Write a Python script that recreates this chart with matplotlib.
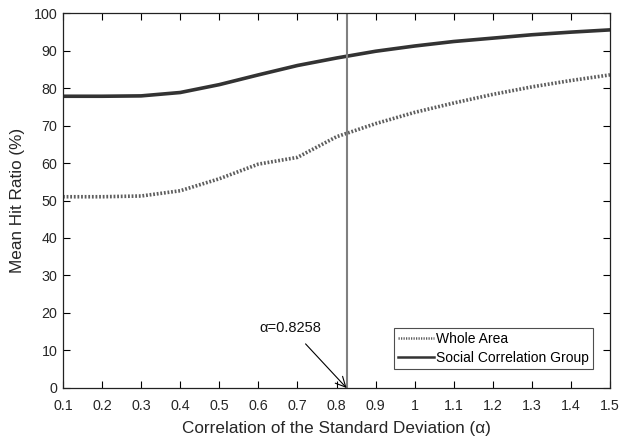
import matplotlib
matplotlib.use("Agg")
import matplotlib.pyplot as plt

alpha = [0.1, 0.2, 0.3, 0.4, 0.5, 0.6, 0.7, 0.8, 0.9, 1.0, 1.1, 1.2, 1.3, 1.4, 1.5]
whole_area = [51.0, 51.0, 51.2, 52.6, 55.8, 59.7, 61.5, 67.0, 70.5, 73.5, 76.0, 78.3, 80.3, 82.0, 83.5]
social_group = [77.8, 77.8, 77.9, 78.8, 80.9, 83.5, 86.0, 88.0, 89.8, 91.2, 92.4, 93.3, 94.2, 94.9, 95.5]
alpha_mark = 0.8258
xticks = [0.1, 0.2, 0.3, 0.4, 0.5, 0.6, 0.7, 0.8, 0.9, 1, 1.1, 1.2, 1.3, 1.4, 1.5]
xticklabels = ["0.1", "0.2", "0.3", "0.4", "0.5", "0.6", "0.7", "0.8", "0.9", "1", "1.1", "1.2", "1.3", "1.4", "1.5"]
yticks = [0, 10, 20, 30, 40, 50, 60, 70, 80, 90, 100]

plt.rcParams['font.family'] = ['Liberation Sans', 'DejaVu Sans']

fig = plt.figure(figsize=(6.22, 4.41), dpi=100)
ax = fig.add_axes([0.1013, 0.1202, 0.8794, 0.8503])

ax.plot(alpha, whole_area, linestyle=(0, (0.5, 0.5)), color='#5e5e5e', linewidth=2.6, label='Whole Area')
ax.plot(alpha, social_group, linestyle='-', color='#333333', linewidth=2.6, label='Social Correlation Group')
ax.axvline(alpha_mark, color='#808080', linewidth=1.5)

ax.annotate('α=0.8258', xy=(alpha_mark, 0), xytext=(0.683, 16),
            ha='center', va='center', fontsize=10.5, color='#111111',
            arrowprops=dict(arrowstyle='->', color='black', lw=0.8, shrinkA=6, shrinkB=0,
                            mutation_scale=18))

ax.set_xlim(0.1, 1.5)
ax.set_ylim(0, 100)
ax.set_xticks(xticks)
ax.set_xticklabels(xticklabels)
ax.set_yticks(yticks)
ax.tick_params(direction='in', top=True, right=True, labelsize=10.3, length=5, width=0.8,
               labelcolor='#262626')
ax.tick_params(axis='x', pad=8)
ax.tick_params(axis='y', pad=4)
for s in ax.spines.values():
    s.set_linewidth(0.9)
    s.set_color('#222222')

ax.set_xlabel('Correlation of the Standard Deviation (α)', fontsize=12.3, labelpad=6, color='#262626')
ax.set_ylabel('Mean Hit Ratio (%)', fontsize=12.3, labelpad=6, color='#262626')

leg = ax.legend(loc='lower right', bbox_to_anchor=(0.9689, 0.0507), fontsize=10, frameon=True,
                fancybox=False, edgecolor='#222222', handlelength=2.6, borderpad=0.3,
                labelspacing=0.35, handletextpad=0.15, borderaxespad=0)
leg.get_frame().set_linewidth(0.8)
for h in leg.get_lines():
    h.set_linewidth(1.8)

fig.savefig('out.png', dpi=100)
